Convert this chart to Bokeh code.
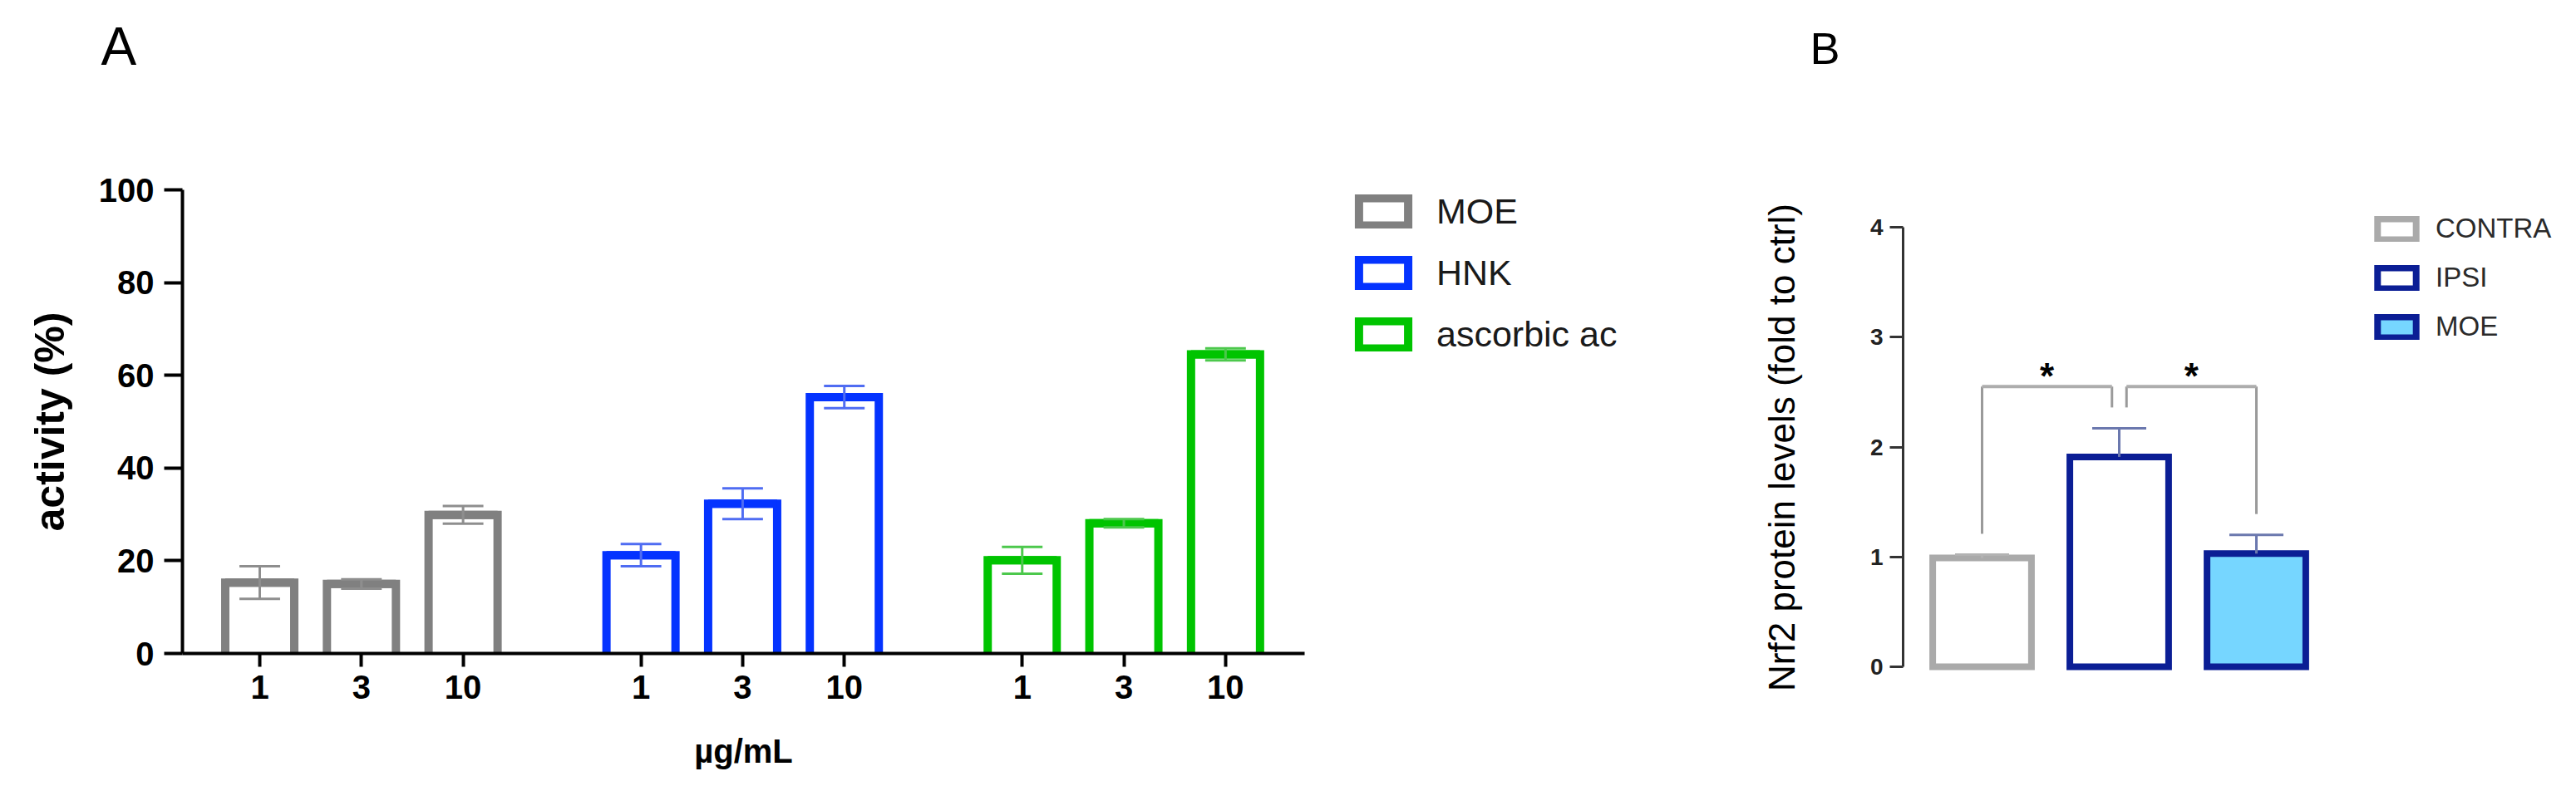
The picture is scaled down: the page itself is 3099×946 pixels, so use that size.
import math
from bokeh.plotting import figure
from bokeh.models import Range1d, FixedTicker, Legend, LegendItem, LinearAxis, ColumnDataSource
from bokeh.embed import file_html
from bokeh.resources import INLINE
from bokeh.core.properties import value

# ---------------- Panel A data ----------------
doses = ["1", "3", "10"]
groups_a = ["MOE", "HNK", "ascorbic ac"]
moe_mean = [15.3, 15.0, 29.9]
moe_sem = [3.5, 1.0, 1.9]
hnk_mean = [21.2, 32.3, 55.3]
hnk_sem = [2.4, 3.3, 2.4]
asc_mean = [20.1, 28.1, 64.5]
asc_sem = [2.9, 0.9, 1.3]
yticks_a = [0, 20, 40, 60, 80, 100]

# ---------------- Panel B data ----------------
groups_b = ["CONTRA", "IPSI", "MOE"]
nrf2_mean = [0.99, 1.91, 1.03]
nrf2_sem = [0.03, 0.26, 0.17]
yticks_b = [0, 1, 2, 3, 4]
comparisons = [(0, 1), (1, 2)]
comp_labels = ["*", "*"]

FONT = "Liberation Sans"
W, H = 3099, 944

# ---- layout (pixels) ----
pxa, a_x0px, a_axis_px, a_xend_px = 122.3 / 4.0, 312, 219, 1569
pya, a_y0px = 5.58, 786
pxb, b_x0px, b_axis_px = 165.0, 2384, 2289
pyb, b_y0px = 132.25, 802

xa_rng = Range1d(-a_x0px / pxa, (W - a_x0px) / pxa)
ya_rng = Range1d(-(H - a_y0px) / pya, a_y0px / pya)

p = figure(width=W, height=H, output_backend="svg", toolbar_location=None,
           x_range=xa_rng, y_range=ya_rng,
           min_border=0, min_border_left=0, min_border_right=0,
           min_border_top=0, min_border_bottom=0)
p.extra_x_ranges = {"xb": Range1d(-b_x0px / pxb, (W - b_x0px) / pxb),
                    "px": Range1d(0, W)}
p.extra_y_ranges = {"yb": Range1d(-(H - b_y0px) / pyb, b_y0px / pyb),
                    "py": Range1d(H, 0)}
p.outline_line_color = None
p.grid.visible = False

# ================= Panel A =================
means_a = [moe_mean, hnk_mean, asc_mean]
sems_a = [moe_sem, hnk_sem, asc_sem]
bar_cols = ["#808080", "#0433ff", "#00c400"]
err_cols = ["#8e8e8e", "#4f6cf2", "#4cc84c"]
group_step, dose_step = 15, 4
bar_w = 2.715
xpos_all, xlab_all = [], []
legend_renderers = []
for g, name in enumerate(groups_a):
    xs = [g * group_step + d * dose_step for d in range(len(doses))]
    xpos_all += xs
    xlab_all += doses
    hw = bar_w / 2
    # open-bottomed bar outlines (bars stand on the axis line)
    p.multi_line(xs=[[x - hw, x - hw, x + hw, x + hw] for x in xs],
                 ys=[[0, t, t, 0] for t in means_a[g]],
                 line_color=bar_cols[g], line_width=10, line_join="miter")
    # bar caps as vbar (zero height, coincide with the outline top) -> legend swatch
    src = ColumnDataSource(dict(x=xs, top=means_a[g]))
    legend_renderers.append(p.vbar(x="x", top="top", bottom="top", width=bar_w, source=src,
                                   fill_color="white", line_color=bar_cols[g],
                                   line_width=10, line_join="miter"))
    lo = [m - s for m, s in zip(means_a[g], sems_a[g])]
    hi = [m + s for m, s in zip(means_a[g], sems_a[g])]
    cw = 0.8
    p.segment(x0=xs, y0=lo, x1=xs, y1=hi, line_color=err_cols[g], line_width=3)
    p.segment(x0=[x - cw for x in xs], y0=hi, x1=[x + cw for x in xs], y1=hi,
              line_color=err_cols[g], line_width=3)
    p.segment(x0=[x - cw for x in xs], y0=lo, x1=[x + cw for x in xs], y1=lo,
              line_color=err_cols[g], line_width=3)

a_axis_x = (a_axis_px - a_x0px) / pxa
xa_end = (a_xend_px - a_x0px) / pxa
xax = p.xaxis[0]
yax = p.yaxis[0]
xax.fixed_location = 0
yax.fixed_location = a_axis_x
xax.ticker = FixedTicker(ticks=xpos_all)
xax.major_label_overrides = {x: l for x, l in zip(xpos_all, xlab_all)}
xax.bounds = (a_axis_x, xa_end)
yax.ticker = FixedTicker(ticks=yticks_a)
yax.bounds = (0, 100)
for ax in (xax, yax):
    ax.axis_line_width = 4
    ax.axis_line_color = "black"
    ax.major_tick_line_width = 4
    ax.major_tick_line_color = "black"
    ax.major_tick_in = 0
    ax.minor_tick_line_color = None
    ax.major_label_text_font = FONT
    ax.major_label_text_font_size = "40px"
    ax.major_label_text_font_style = "bold"
    ax.major_label_text_color = "black"
xax.major_tick_out = 16
xax.major_label_standoff = 10
yax.major_tick_out = 22
yax.major_label_standoff = 12

legA = Legend(items=[LegendItem(label=n, renderers=[r]) for n, r in zip(groups_a, legend_renderers)],
              location=(1627, H - 427), glyph_width=74, glyph_height=41, label_height=41,
              label_standoff=27, spacing=25, padding=0, margin=0,
              border_line_alpha=0, background_fill_alpha=0,
              label_text_font=FONT, label_text_font_size="43px", label_text_color="#1a1a1a")
p.add_layout(legA)

# ================= Panel B =================
NAVY = "#0b1e95"
fills_b = ["white", "white", "#76d6ff"]
lines_b = ["#aaaaaa", NAVY, NAVY]
errc_b = ["#b3b3b3", "#6b78ae", "#6b78ae"]
renderers_b = []
for i, name in enumerate(groups_b):
    r = p.vbar(x=[i], top=[nrf2_mean[i]], bottom=0, width=0.72,
               fill_color=fills_b[i], line_color=lines_b[i], line_width=8,
               line_join="miter", x_range_name="xb", y_range_name="yb")
    renderers_b.append(r)
for i in range(len(groups_b)):
    hi = nrf2_mean[i] + nrf2_sem[i]
    p.segment(x0=[i], y0=[nrf2_mean[i]], x1=[i], y1=[hi], line_color=errc_b[i],
              line_width=3, x_range_name="xb", y_range_name="yb")
    p.segment(x0=[i - 0.197], y0=[hi], x1=[i + 0.197], y1=[hi], line_color=errc_b[i],
              line_width=3, x_range_name="xb", y_range_name="yb")

# significance brackets
bracket_y = 2.55
leg_gap = 0.19
shared_off = 0.053
star_lift = 0.1
ends = [e for c in comparisons for e in c]
hx0, hx1, lx, ly0, ly1, sx = [], [], [], [], [], []
for a, b in comparisons:
    xa_ = a + (shared_off if ends.count(a) > 1 else 0)
    xb_ = b - (shared_off if ends.count(b) > 1 else 0)
    hx0.append(xa_); hx1.append(xb_)
    for xx, idx in ((xa_, a), (xb_, b)):
        lx.append(xx)
        ly0.append(nrf2_mean[idx] + nrf2_sem[idx] + leg_gap)
        ly1.append(bracket_y)
    sx.append((xa_ + xb_) / 2)
p.segment(x0=lx, y0=ly0, x1=lx, y1=ly1, line_color="#9a9a9a", line_width=3,
          x_range_name="xb", y_range_name="yb")
p.segment(x0=hx0, y0=[bracket_y] * len(hx0), x1=hx1, y1=[bracket_y] * len(hx0),
          line_color="#adadad", line_width=4, x_range_name="xb", y_range_name="yb")
p.text(x=sx, y=[bracket_y + star_lift] * len(sx), text=comp_labels, text_font=value(FONT),
       text_font_size=value("44px"), text_font_style="bold", text_align="center",
       text_baseline="middle", text_color="black", x_range_name="xb", y_range_name="yb")

axB = LinearAxis(x_range_name="xb", y_range_name="yb",
                 fixed_location=(b_axis_px - b_x0px) / pxb)
axB.ticker = FixedTicker(ticks=yticks_b)
axB.bounds = (0, 4)
axB.axis_line_width = 3
axB.axis_line_color = "#333333"
axB.major_tick_line_width = 3
axB.major_tick_line_color = "#333333"
axB.major_tick_in = 0
axB.major_tick_out = 16
axB.minor_tick_line_color = None
axB.major_label_text_font = FONT
axB.major_label_text_font_size = "28px"
axB.major_label_text_font_style = "bold"
axB.major_label_text_color = "#222222"
axB.major_label_standoff = 8
p.add_layout(axB, "left")

legB = Legend(items=[LegendItem(label=n, renderers=[r]) for n, r in zip(groups_b, renderers_b)],
              location=(2854, H - 412), glyph_width=58, glyph_height=31, label_height=31,
              label_standoff=18, spacing=21, padding=0, margin=0,
              border_line_alpha=0, background_fill_alpha=0,
              label_text_font=FONT, label_text_font_size="33px", label_text_color="#2a2a2a")
p.add_layout(legB)

# ================= titles / axis titles (page pixel positions) =================
def put(x, y, txt, size, style="normal", angle=0.0, align="left"):
    p.text(x=[x], y=[y], text=[txt], angle=angle, text_font=value(FONT),
           text_font_size=value(size), text_font_style=style, text_align=align,
           text_baseline="middle", text_color="black",
           x_range_name="px", y_range_name="py")

put(121, 55, "A", "64px")
put(2177, 57, "B", "54px")
put(59, 507, "activity (%)", "50px", "bold", math.pi / 2, "center")
put(894, 903, "µg/mL", "40px", "bold", 0.0, "center")
put(2143, 538, "Nrf2 protein levels (fold to ctrl)", "44px", "normal", math.pi / 2, "center")

open("out.html", "w").write(file_html(p, INLINE))
